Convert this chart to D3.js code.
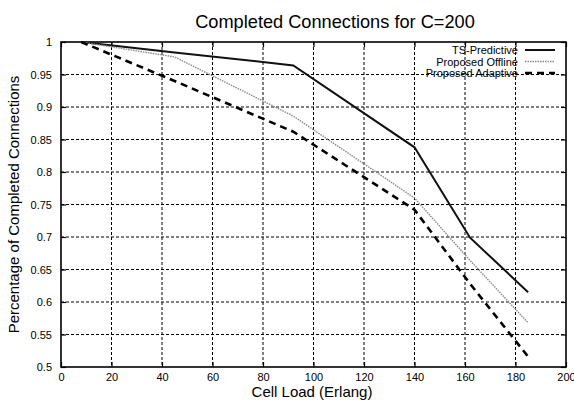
<!DOCTYPE html>
<html>
<head>
<meta charset="utf-8">
<script src="https://cdn.jsdelivr.net/npm/d3@7"></script>
<style>
  html, body { margin: 0; padding: 0; background: #fff; }
  svg { display: block; font-family: "Liberation Sans", Arial, Helvetica, sans-serif; }
</style>
</head>
<body>
<svg id="chart" width="574" height="400"></svg>
<script>
// Cell load (Erlang) at which each configuration was evaluated
const loads = [8, 45, 92, 140, 162, 185];
// Fraction of completed connections per scheme
const tsPredictive    = [1.000, 0.984, 0.964, 0.838, 0.699, 0.615];
const proposedOffline = [1.000, 0.977, 0.886, 0.760, 0.664, 0.568];
const proposedAdaptive = [1.000, 0.940, 0.862, 0.742, 0.628, 0.516];

const seriesNames = ["TS-Predictive", "Proposed Offline", "Proposed Adaptive"];
const xTicks = [0, 20, 40, 60, 80, 100, 120, 140, 160, 180, 200];
const yTicks = [0.5, 0.55, 0.6, 0.65, 0.7, 0.75, 0.8, 0.85, 0.9, 0.95, 1];

const titleText = "Completed Connections for C=200";
const xLabel = "Cell Load (Erlang)";
const yLabel = "Percentage of Completed Connections";

const svg = d3.select("#chart");
const box = { left: 61, right: 566, top: 42, bottom: 367 };

const x = d3.scaleLinear().domain([0, 200]).range([box.left, box.right]);
const y = d3.scaleLinear().domain([0.5, 1]).range([box.bottom, box.top]);

// dotted grid
const grid = svg.append("g").attr("stroke", "#000").attr("stroke-width", 1)
  .attr("stroke-dasharray", "3,2");
grid.selectAll("line.gx").data(xTicks.filter(d => d > 0 && d < 200)).join("line")
  .attr("x1", d => x(d)).attr("x2", d => x(d))
  .attr("y1", box.top).attr("y2", box.bottom);
grid.selectAll("line.gy").data(yTicks.filter(d => d > 0.5 && d < 1)).join("line")
  .attr("x1", box.left).attr("x2", box.right)
  .attr("y1", d => y(d)).attr("y2", d => y(d));

// axes with inward ticks, mirrored on top and right
const fmt = d3.format("~g");
const axB = svg.append("g").attr("transform", `translate(0,${box.bottom})`)
  .call(d3.axisBottom(x).tickValues(xTicks).tickFormat(fmt).tickSizeInner(-5).tickSizeOuter(0).tickPadding(7));
const axL = svg.append("g").attr("transform", `translate(${box.left},0)`)
  .call(d3.axisLeft(y).tickValues(yTicks).tickFormat(fmt).tickSizeInner(-5).tickSizeOuter(0).tickPadding(9));
const axT = svg.append("g").attr("transform", `translate(0,${box.top})`)
  .call(d3.axisTop(x).tickValues(xTicks).tickFormat("").tickSizeInner(-5).tickSizeOuter(0));
const axR = svg.append("g").attr("transform", `translate(${box.right},0)`)
  .call(d3.axisRight(y).tickValues(yTicks).tickFormat("").tickSizeInner(-5).tickSizeOuter(0));
[axB, axL, axT, axR].forEach(a => {
  a.select(".domain").remove();
  a.selectAll(".tick line").attr("stroke", "#000").attr("stroke-width", 1.2);
  a.selectAll("text").attr("font-size", 11).attr("fill", "#000")
    .attr("font-family", "'Liberation Sans', Arial, sans-serif");
});
axB.selectAll("text").attr("dy", "0.6em");

// frame
svg.append("rect")
  .attr("x", box.left).attr("y", box.top)
  .attr("width", box.right - box.left).attr("height", box.bottom - box.top)
  .attr("fill", "none").attr("stroke", "#000").attr("stroke-width", 1.6);

// series
const styles = [
  { stroke: "#111", width: 2, dash: null },
  { stroke: "#8a8a8a", width: 1.4, dash: "1.5,1" },
  { stroke: "#000", width: 2.6, dash: "7,5" }
];
const values = [tsPredictive, proposedOffline, proposedAdaptive];
const line = d3.line().x(d => x(d[0])).y(d => y(d[1]));

values.forEach((vals, i) => {
  const pts = loads.map((l, j) => [l, vals[j]]);
  const p = svg.append("path").datum(pts)
    .attr("d", line).attr("fill", "none")
    .attr("stroke", styles[i].stroke).attr("stroke-width", styles[i].width);
  if (styles[i].dash) p.attr("stroke-dasharray", styles[i].dash);
});

// legend
const legend = svg.append("g");
seriesNames.forEach((name, i) => {
  const yy = 50 + i * 11.5;
  legend.append("text").attr("x", 518).attr("y", yy + 4)
    .attr("text-anchor", "end").attr("font-size", 11).attr("fill", "#000")
    .text(name);
  const l = legend.append("line")
    .attr("x1", 525).attr("x2", 555).attr("y1", yy).attr("y2", yy)
    .attr("stroke", styles[i].stroke).attr("stroke-width", styles[i].width);
  if (styles[i].dash) l.attr("stroke-dasharray", styles[i].dash);
});

// titles
svg.append("text").attr("x", 335).attr("y", 28)
  .attr("text-anchor", "middle").attr("font-size", 18.2).attr("fill", "#000")
  .text(titleText);
svg.append("text").attr("x", 312).attr("y", 397)
  .attr("text-anchor", "middle").attr("font-size", 15).attr("fill", "#000")
  .text(xLabel);
svg.append("text")
  .attr("transform", `translate(19,${(box.top + box.bottom) / 2}) rotate(-90)`)
  .attr("text-anchor", "middle").attr("font-size", 15).attr("fill", "#000")
  .text(yLabel);
</script>
</body>
</html>
